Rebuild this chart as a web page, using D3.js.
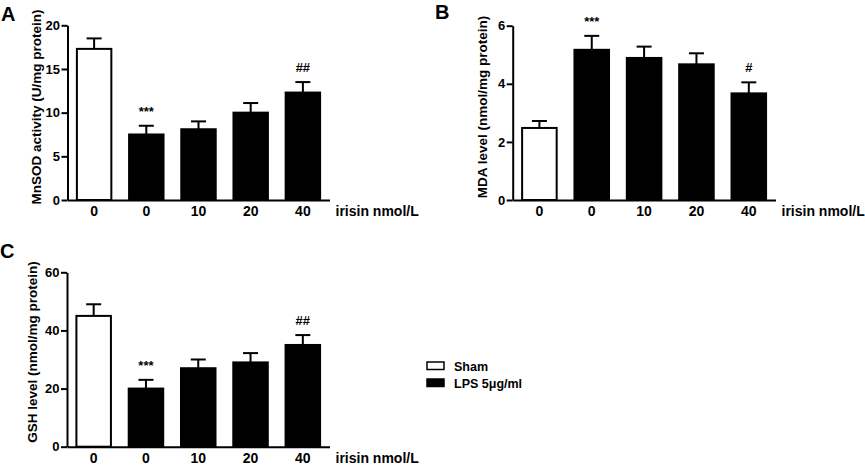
<!DOCTYPE html>
<html>
<head>
<meta charset="utf-8">
<script src="https://cdn.jsdelivr.net/npm/d3@7"></script>
<style>
  body { margin: 0; background: #fff; }
  svg text { font-family: "Liberation Sans", Arial, sans-serif; font-weight: bold; fill: #000; }
</style>
</head>
<body>
<div id="chart"></div>
<script>
// DATA ***********************************************
var doses = ["0", "0", "10", "20", "40"];
var groups = ["Sham", "LPS", "LPS", "LPS", "LPS"];

var mnsodMean = [17.3, 7.5, 8.1, 10.0, 12.3];
var mnsodSem = [1.2, 1.0, 0.9, 1.1, 1.2];
var mnsodMarks = ["", "***", "", "", "##"];
var mnsodTicks = [0, 5, 10, 15, 20];

var mdaMean = [2.48, 5.17, 4.89, 4.67, 3.67];
var mdaSem = [0.24, 0.48, 0.39, 0.38, 0.38];
var mdaMarks = ["", "***", "", "", "#"];
var mdaTicks = [0, 2, 4, 6];

var gshMean = [45, 20, 27, 29, 35];
var gshSem = [4, 3, 3, 3.2, 3.4];
var gshMarks = ["", "***", "", "", "##"];
var gshTicks = [0, 20, 40, 60];

var legendLabels = ["Sham", "LPS 5μg/ml"];

// SETUP ***********************************************
var width = 865;
var height = 466;

var svg = d3.select("#chart")
        .append("svg")
        .attr("width", width)
        .attr("height", height);

var fill = d3.scaleOrdinal().domain(["Sham", "LPS"]).range(["#fff", "#000"]);

// one panel: letter, y title, axes, bars, error bars, marks
function drawPanel(p) {
        var g = svg.append("g");
        var idx = d3.range(p.mean.length);

        var x = d3.scaleBand()
                .domain(idx)
                .range([p.left, p.right])
                .paddingInner(0.34)
                .paddingOuter(0.18);

        var y = d3.scaleLinear()
                .domain([0, d3.max(p.ticks)])
                .range([p.bottom, p.top]);

        // bars
        g.selectAll(".bar")
                .data(idx)
                .enter()
                .append("rect")
                .attr("x", i => x(i))
                .attr("y", i => y(p.mean[i]))
                .attr("width", x.bandwidth())
                .attr("height", i => p.bottom - y(p.mean[i]))
                .attr("fill", i => fill(groups[i]))
                .attr("stroke", "#000")
                .attr("stroke-width", 2);

        // error bars (upper only)
        var capW = 15;
        var err = g.selectAll(".err")
                .data(idx)
                .enter()
                .append("g");
        err.append("line")
                .attr("x1", i => x(i) + x.bandwidth() / 2)
                .attr("x2", i => x(i) + x.bandwidth() / 2)
                .attr("y1", i => y(p.mean[i]))
                .attr("y2", i => y(p.mean[i] + p.sem[i]))
                .attr("stroke", "#000")
                .attr("stroke-width", 2);
        err.append("line")
                .attr("x1", i => x(i) + x.bandwidth() / 2 - capW / 2)
                .attr("x2", i => x(i) + x.bandwidth() / 2 + capW / 2)
                .attr("y1", i => y(p.mean[i] + p.sem[i]))
                .attr("y2", i => y(p.mean[i] + p.sem[i]))
                .attr("stroke", "#000")
                .attr("stroke-width", 2);

        // significance marks
        g.selectAll(".mark")
                .data(idx)
                .enter()
                .append("text")
                .attr("x", i => x(i) + x.bandwidth() / 2)
                .attr("y", i => y(p.mean[i] + p.sem[i]) - 10)
                .attr("text-anchor", "middle")
                .attr("font-size", 13)
                .text(i => p.marks[i]);

        // y axis
        var yAxis = g.append("g")
                .attr("transform", "translate(" + p.left + ",0)")
                .call(d3.axisLeft(y)
                        .tickValues(p.ticks)
                        .tickFormat(d3.format("d"))
                        .tickSize(6)
                        .tickSizeOuter(0)
                        .tickPadding(1.5));
        yAxis.selectAll("path, line").attr("stroke", "#000").attr("stroke-width", 2);
        yAxis.selectAll("text").attr("font-size", 13).attr("font-family", null);

        // x axis
        var xAxis = g.append("g")
                .attr("transform", "translate(0," + p.bottom + ")")
                .call(d3.axisBottom(x).tickSize(0).tickPadding(6).tickFormat(i => doses[i]));
        xAxis.selectAll("path").attr("stroke", "#000").attr("stroke-width", 2);
        xAxis.selectAll("text").attr("font-size", 14).attr("font-family", null);

        g.append("text")
                .attr("x", p.right + 6)
                .attr("y", p.bottom + 16)
                .attr("font-size", 14)
                .text("irisin nmol/L");

        // y title
        g.append("text")
                .attr("transform", "translate(" + p.titleX + "," + p.titleY + ") rotate(-90)")
                .attr("text-anchor", "middle")
                .attr("font-size", 13.5)
                .text(p.title);

        // panel letter
        g.append("text")
                .attr("x", p.letterX)
                .attr("y", p.letterY)
                .attr("font-size", 20)
                .text(p.letter);
}

drawPanel({
        letter: "A", letterX: 1, letterY: 21,
        title: "MnSOD activity (U/mg protein)", titleX: 41, titleY: 107,
        mean: mnsodMean, sem: mnsodSem, marks: mnsodMarks, ticks: mnsodTicks,
        left: 67.5, right: 329.5, top: 25.3, bottom: 200
});

drawPanel({
        letter: "B", letterX: 435, letterY: 19,
        title: "MDA level (nmol/mg protein)", titleX: 487, titleY: 107,
        mean: mdaMean, sem: mdaSem, marks: mdaMarks, ticks: mdaTicks,
        left: 512.7, right: 775.5, top: 25.7, bottom: 200
});

drawPanel({
        letter: "C", letterX: 0, letterY: 258,
        title: "GSH level (nmol/mg protein)", titleX: 37, titleY: 352,
        mean: gshMean, sem: gshSem, marks: gshMarks, ticks: gshTicks,
        left: 67, right: 329.5, top: 272.3, bottom: 446.7
});

// legend
var legend = svg.append("g").attr("transform", "translate(427,362)");
var li = legend.selectAll(".item")
        .data(legendLabels)
        .enter()
        .append("g")
        .attr("transform", (d, i) => "translate(0," + i * 17 + ")");
li.append("rect")
        .attr("width", 17)
        .attr("height", 7.5)
        .attr("fill", (d, i) => i === 0 ? "#fff" : "#000")
        .attr("stroke", "#000")
        .attr("stroke-width", 1.5);
li.append("text")
        .attr("x", 27)
        .attr("y", 8.5)
        .attr("font-size", 12.5)
        .text(d => d);
</script>
</body>
</html>
